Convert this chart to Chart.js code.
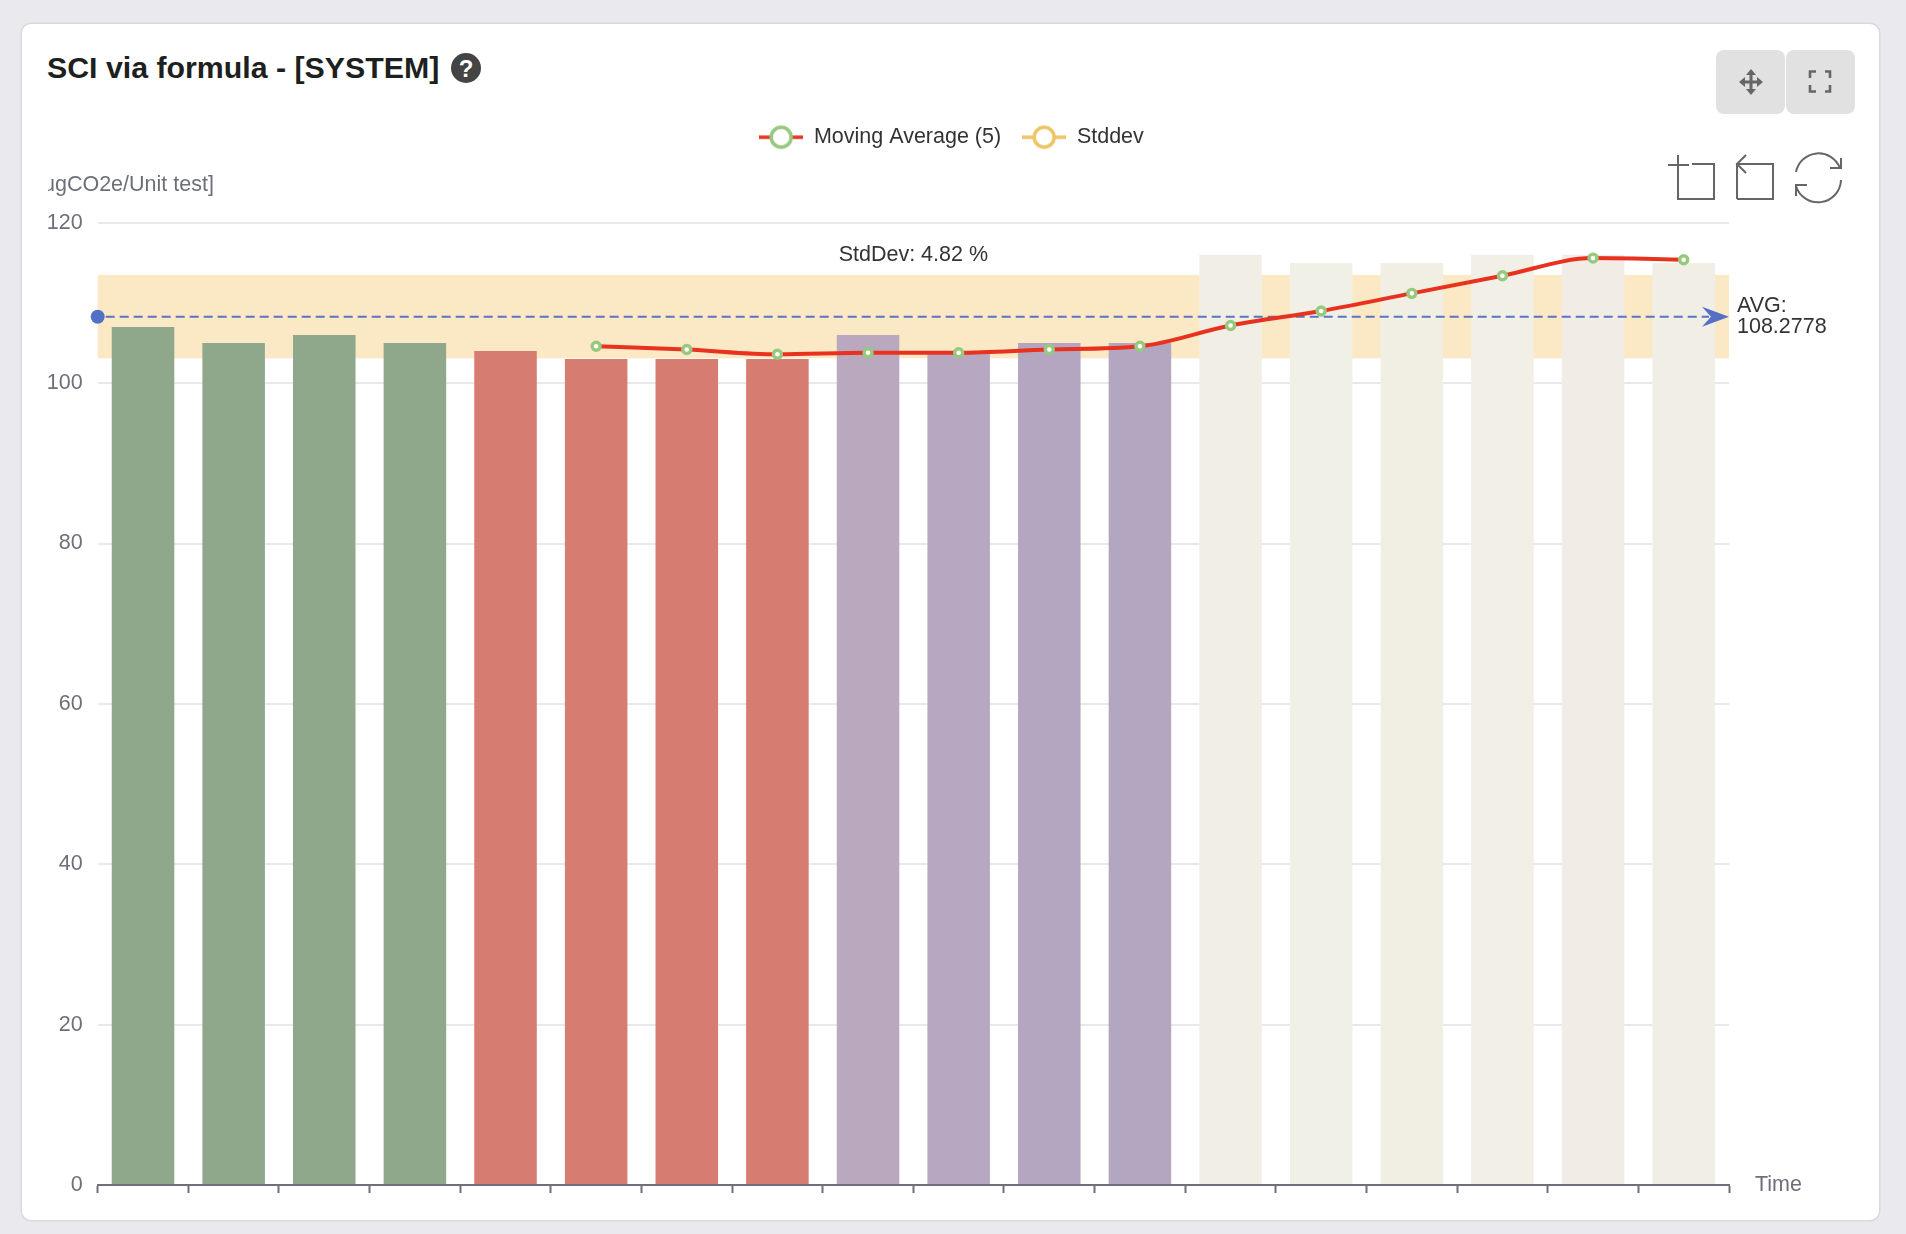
<!DOCTYPE html>
<html>
<head>
<meta charset="utf-8">
<title>SCI via formula</title>
<script src="https://cdn.jsdelivr.net/npm/chart.js@4"></script>
<style>
  html, body { margin: 0; padding: 0; background: #e9e9ee; overflow: hidden; }
  #page { position: relative; width: 1906px; height: 1234px; font-family: "Liberation Sans", Arial, sans-serif; }
  #card { position: absolute; left: 21.5px; top: 23.5px; width: 1857px; height: 1196px; background: #fff; border-radius: 9px; box-shadow: 0 0 0 1.5px #d9d9dd; }
  #title { position: absolute; left: 47px; top: 50px; font-size: 30.3px; line-height: 36px; font-weight: bold; color: #1d1f21; white-space: nowrap; }
  #help { position: absolute; left: 451px; top: 53px; width: 30px; height: 30px; border-radius: 50%; background: #444; color: #fff; font-size: 24px; line-height: 31px; font-weight: bold; text-align: center; }
  .btn { position: absolute; top: 50px; width: 69px; height: 64px; background: #e1e1e1; border-radius: 8px; }
  #tools, canvas { position: absolute; left: 0; top: 0; }
</style>
</head>
<body>
<div id="page">
  <div id="card"></div>
  <div id="title">SCI via formula - [SYSTEM]</div>
  <div id="help">?</div>
  <div class="btn" style="left:1716px"></div>
  <div class="btn" style="left:1786px"></div>
  <svg id="tools" width="1906" height="1234" fill="none" stroke="#666" stroke-width="2">
    <!-- move -->
    <g stroke-width="3" stroke="#666"><path d="M1751 74V90M1743 82H1759"/></g>
    <g fill="#666" stroke="none">
      <path d="M1751 69l5 6h-10zM1751 95l5-6h-10zM1739 82l6-5v10zM1763 82l-6-5v10z"/>
    </g>
    <!-- fullscreen -->
    <path stroke-width="2.6" stroke="#666" d="M1810 78V71.5H1816M1825 71.5H1830V78M1830 85V91.5H1825M1816 91.5H1810V85" />
    <!-- zoom -->
    <path d="M1668 165H1689M1678 155V199H1714V164H1692"/>
    <!-- zoom back -->
    <path d="M1737 199V164H1773V199H1737M1746 155L1737 164L1746 173"/>
    <!-- restore -->
    <path d="M1840 168A23 23 0 0 0 1796 172M1796 186A23 23 0 0 0 1841 180M1841 158V168H1830M1796 196V185H1807"/>
  </svg>
  <canvas id="chart" width="1906" height="1234"></canvas>
</div>
<script>
const categories = ['1','2','3','4','5','6','7','8','9','10','11','12','13','14','15','16','17','18'];
const sciValues = [107,105,106,105,104,103,103,103,106,104,105,105,116,115,115,116,116,115];
const movingAverage = [null,null,null,null,null,104.6,104.2,103.6,103.8,103.8,104.2,104.6,107.2,109,111.2,113.4,115.6,115.4];
const barColors = ['#8fa78b','#8fa78b','#8fa78b','#8fa78b','#d67c70','#d67c70','#d67c70','#d67c70',
  '#baa8bf','#b7a7c0','#b4a6c0','#b3a6c0','#f1efe5','#f1f0e6','#f1efe4','#f1efe6','#f1ede6','#f1eee6'];
const avgValue = 108.2778;
const bandLow = 103.1;
const bandHigh = 113.5;
const yTicks = [0,20,40,60,80,100,120];

const FONT = '"Liberation Sans", Arial, sans-serif';
Chart.defaults.font.family = FONT;
Chart.defaults.font.size = 21.5;

// legend symbol: short line with a ring on top
function legendIcon(lineColor, ringColor) {
  const c = document.createElement('canvas');
  c.width = 44; c.height = 26;
  const g = c.getContext('2d');
  g.strokeStyle = lineColor; g.lineWidth = 3.5;
  g.beginPath(); g.moveTo(0, 13); g.lineTo(44, 13); g.stroke();
  g.fillStyle = '#fff'; g.strokeStyle = ringColor; g.lineWidth = 3.5;
  g.beginPath(); g.arc(22, 13, 10, 0, Math.PI * 2); g.fill(); g.stroke();
  return c;
}

const extras = {
  id: 'extras',
  beforeDatasetsDraw(chart) {
    const { ctx, chartArea, scales } = chart;
    const top = scales.y.getPixelForValue(bandHigh);
    const bottom = scales.y.getPixelForValue(bandLow);
    ctx.save();
    ctx.fillStyle = '#fbe8c5';
    ctx.fillRect(chartArea.left, top, chartArea.width, bottom - top);
    ctx.restore();
  },
  afterDatasetDraw(chart, args) {
    if (args.index !== 0) return;
    // average marker over the bars, under the moving average line
    const { ctx, chartArea, scales } = chart;
    const y = scales.y.getPixelForValue(avgValue);
    ctx.save();
    ctx.strokeStyle = '#5a73c2';
    ctx.fillStyle = '#5470c6';
    ctx.lineWidth = 2;
    ctx.setLineDash([9, 5]);
    ctx.beginPath(); ctx.moveTo(chartArea.left + 8, y); ctx.lineTo(chartArea.right - 20, y); ctx.stroke();
    ctx.setLineDash([]);
    ctx.beginPath(); ctx.arc(chartArea.left, y, 7, 0, Math.PI * 2); ctx.fill();
    const r = chartArea.right;
    ctx.beginPath(); ctx.moveTo(r, y); ctx.lineTo(r - 27, y - 10); ctx.lineTo(r - 18, y); ctx.lineTo(r - 27, y + 10); ctx.closePath(); ctx.fill();
    ctx.restore();
  },
  afterDraw(chart) {
    const { ctx, chartArea, scales } = chart;
    ctx.save();
    ctx.font = '21.5px ' + FONT;
    ctx.textBaseline = 'middle';
    ctx.textAlign = 'center';
    ctx.fillStyle = '#333';
    ctx.fillText('StdDev: 4.82 %', (chartArea.left + chartArea.right) / 2, scales.y.getPixelForValue(bandHigh) - 20);
    ctx.textAlign = 'left';
    ctx.fillStyle = '#6e7079';
    ctx.fillText('Time', chartArea.right + 26, chartArea.bottom);
    // the axis name is cut off on its left side in the original
    ctx.clearRect(38, 170, 9.8, 28);
    ctx.restore();
  }
};

new Chart(document.getElementById('chart'), {
  type: 'bar',
  data: {
    labels: categories,
    datasets: [
      { type: 'bar', label: 'SCI', data: sciValues, backgroundColor: barColors, barPercentage: 0.69, categoryPercentage: 1, order: 2 },
      { type: 'line', label: 'Moving Average (5)', data: movingAverage, borderColor: '#e8321f', borderWidth: 4,
        cubicInterpolationMode: 'monotone', pointRadius: 4, pointBorderWidth: 3.4, pointBorderColor: '#96c97e',
        pointBackgroundColor: '#fff', order: 0, icon: legendIcon('#e8321f', '#96c97e') },
      { type: 'line', label: 'Stddev', data: [], borderColor: '#eec565', order: 1, icon: legendIcon('#eec565', '#eec565') }
    ]
  },
  options: {
    responsive: false,
    animation: false,
    layout: { padding: { left: 43, right: 46, top: 105.5, bottom: 40 } },
    plugins: {
      tooltip: { enabled: false },
      legend: {
        display: true,
        position: 'top',
        onClick: null,
        labels: {
          usePointStyle: true,
          pointStyleWidth: 44,
          padding: 21,
          color: '#333',
          generateLabels: chart => chart.data.datasets.filter(d => d.type === 'line').map(d => ({
            text: d.label, pointStyle: d.icon, fontColor: '#333', lineWidth: 0, hidden: false
          }))
        }
      },
      subtitle: {
        display: true,
        text: 'ugCO2e/Unit test]',
        align: 'start',
        weight: 500,
        color: '#6e7079',
        font: { size: 21.5, family: FONT },
        padding: { top: 14, bottom: 25 }
      }
    },
    scales: {
      x: {
        grid: { drawOnChartArea: false, drawTicks: true, tickLength: 8, tickColor: '#6e7079', tickWidth: 2, offset: true },
        border: { color: '#6e7079', width: 2 },
        ticks: { display: false, autoSkip: false },
        afterFit: s => { s.height = 9; }
      },
      y: {
        min: 0,
        max: 120,
        grid: { color: '#e8e9ec', lineWidth: 2, drawTicks: false },
        border: { display: false },
        ticks: { color: '#6e7079', padding: 15, stepSize: 20, callback: v => yTicks.includes(v) ? String(v) : '' },
        afterFit: s => { s.width = 54.7; }
      },
      y2: {
        position: 'right',
        min: 0,
        max: 120,
        grid: { display: false, drawTicks: false },
        border: { display: false },
        ticks: { color: '#333', padding: 8, font: { lineHeight: 1 }, callback: () => ['AVG:', String(avgValue)] },
        afterBuildTicks: s => { s.ticks = [{ value: avgValue }]; },
        afterFit: s => { s.width = 131; }
      }
    }
  },
  plugins: [extras]
});
</script>
</body>
</html>
